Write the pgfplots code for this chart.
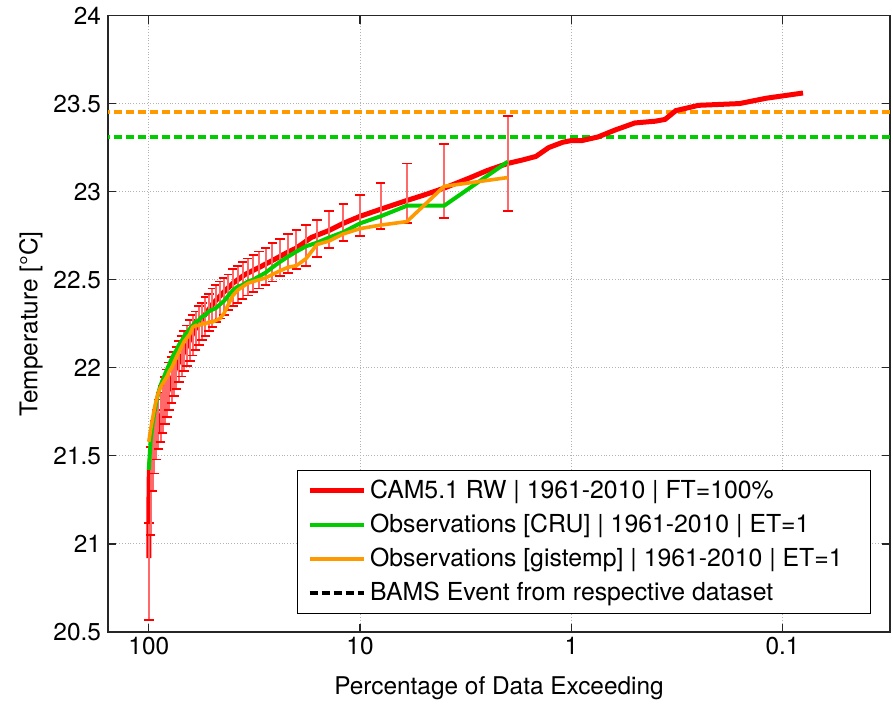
\documentclass[border=0pt]{standalone}
\usepackage{fontspec}
\setmainfont{TeX Gyre Heros}
\usepackage{pgfplots}
\usepackage{pgfplotstable}
\pgfplotsset{compat=1.18}

\definecolor{cruGreen}{RGB}{0,204,0}
\definecolor{gisOrange}{RGB}{255,153,0}
\definecolor{barPink}{RGB}{255,105,105}

% model (CAM5.1 RW) exceedance curve
\pgfplotstableread{
p      T
100    20.92
99.9   21.10
99.8   21.25
99.6   21.36
99.3   21.42
98.5   21.47
96.5   21.51
94     21.57
91     21.64
89     21.69
85     21.78
82     21.85
78     21.93
74.5   22.00
70     22.06
65     22.14
61     22.21
55     22.29
50     22.36
45     22.42
40     22.48
35     22.53
30     22.57
25     22.62
21.7   22.66
20     22.68
17     22.74
14     22.78
12     22.82
10     22.86
8      22.90
6      22.95
5      22.98
4      23.02
3      23.08
2.5    23.12
2      23.16
1.7    23.18
1.47   23.20
1.28   23.25
1.1    23.28
1.0    23.29
0.89   23.29
0.75   23.31
0.62   23.35
0.5    23.39
0.4    23.40
0.36   23.41
0.32   23.46
0.25   23.49
0.16   23.50
0.12   23.53
0.08   23.56
}\model

% observations, one value every 2 % (50 years)
\pgfplotstableread{
p    cru    gis    lo     hi
100  21.42  21.58  20.57  21.12
98   21.59  21.65  21.05  21.55
96   21.68  21.71  21.30  21.62
94   21.75  21.77  21.40  21.70
92   21.81  21.82  21.48  21.76
90   21.86  21.86  21.54  21.82
88   21.90  21.89  21.58  21.86
86   21.93  21.91  21.63  21.90
84   21.96  21.93  21.68  21.95
82   21.99  21.95  21.72  21.99
80   22.02  21.98  21.76  22.03
78   22.05  22.00  21.80  22.06
76   22.08  22.03  21.84  22.09
74   22.10  22.06  21.88  22.12
72   22.13  22.09  21.92  22.15
70   22.15  22.12  21.95  22.18
68   22.18  22.15  21.98  22.21
66   22.20  22.17  22.01  22.24
64   22.22  22.19  22.04  22.27
62   22.24  22.23  22.07  22.30
60   22.26  22.24  22.10  22.32
58   22.27  22.24  22.13  22.35
56   22.29  22.25  22.16  22.37
54   22.30  22.25  22.18  22.40
52   22.32  22.26  22.21  22.42
50   22.33  22.26  22.23  22.45
48   22.34  22.27  22.26  22.47
46   22.36  22.28  22.28  22.49
44   22.38  22.31  22.30  22.51
42   22.41  22.36  22.33  22.53
40   22.44  22.41  22.35  22.56
38   22.46  22.44  22.37  22.58
36   22.47  22.46  22.39  22.60
34   22.49  22.48  22.41  22.62
32   22.50  22.49  22.43  22.64
30   22.52  22.50  22.45  22.66
28   22.54  22.51  22.47  22.68
26   22.57  22.53  22.49  22.71
24   22.60  22.55  22.52  22.73
22   22.63  22.57  22.54  22.76
20   22.66  22.58  22.56  22.78
18   22.69  22.62  22.58  22.81
16   22.71  22.70  22.63  22.84
14   22.74  22.72  22.68  22.89
12   22.77  22.76  22.72  22.93
10   22.82  22.79  22.75  22.98
8    22.86  22.81  22.79  23.05
6    22.92  22.83  22.82  23.16
4    22.92  23.03  22.85  23.27
2    23.17  23.08  22.89  23.43
}\obs

\begin{document}
\begin{tikzpicture}
\begin{axis}[
  scale only axis,
  width=391pt, height=308.25pt,
  xmode=log, x dir=reverse,
  xmin=0.031, xmax=156,
  ymin=20.5, ymax=24,
  xtick={100,10,1,0.1},
  xticklabels={100,10,1,0.1},
  minor xtick={},
  ytick={20.5,21,21.5,22,22.5,23,23.5,24},
  yticklabels={20.5,21,21.5,22,22.5,23,23.5,24},
  /pgf/number format/assume math mode=true,
  tick label style={font=\fontsize{12.2}{14}\selectfont},
  xticklabel style={yshift=1pt},
  label style={font=\fontsize{12.2}{14}\selectfont},
  xlabel={Percentage of Data Exceeding},
  ylabel={Temperature [°C]},
  xlabel style={at={(axis description cs:0.5,0)}, anchor=center, yshift=-28pt},
  ylabel style={at={(axis description cs:0,0.5)}, anchor=center, yshift=38.5pt},
  grid=major,
  major grid style={gray!60, densely dotted, line width=0.5pt},
  tick align=inside,
  major tick length=4pt,
  axis line style={line width=0.6pt, black!85},
  every tick/.style={black!85, line width=0.6pt},
  legend cell align=left,
  legend style={at={(rel axis cs:0.976,0.029)}, anchor=south east,
    font=\fontsize{12.4}{14}\selectfont, draw=black, line width=0.6pt,
    row sep=2.2pt, inner xsep=5pt, inner ysep=3pt},
  legend image code/.code={\draw[#1] (0pt,0pt) -- (27pt,0pt);},
]
\coordinate (bl) at (rel axis cs:0,0);
\coordinate (tr) at (rel axis cs:1,1);

% BAMS event levels
\addplot[gisOrange, line width=2pt, dash pattern=on 4pt off 2pt, forget plot]
  coordinates {(0.031,23.45) (156,23.45)};
\addplot[cruGreen, line width=2pt, dash pattern=on 4pt off 2pt, forget plot]
  coordinates {(0.031,23.31) (156,23.31)};

\addplot[red, line width=2.5pt] table[x=p, y=T] {\model};
\addlegendentry{CAM5.1 RW | 1961-2010 | FT=100\%}

% model spread at the observation ranks
\addplot[draw=none, mark=none, forget plot,
  error bars/.cd, y dir=both, y explicit,
  error bar style={draw=barPink, line width=1pt},
  error mark options={rotate=90, draw=red, mark size=2.4pt, line width=0.9pt}]
  table[x=p, y expr=(\thisrow{lo}+\thisrow{hi})/2,
        y error expr=(\thisrow{hi}-\thisrow{lo})/2] {\obs};

\addplot[cruGreen, line width=2pt] table[x=p, y=cru] {\obs};
\addlegendentry{Observations [CRU] | 1961-2010 | ET=1}
\addplot[gisOrange, line width=1.8pt] table[x=p, y=gis] {\obs};
\addlegendentry{Observations [gistemp] | 1961-2010 | ET=1\hspace*{7pt}}
\addlegendimage{black, line width=2pt, dash pattern=on 4pt off 2pt}
\addlegendentry{BAMS Event from respective dataset}
\end{axis}
\path ([xshift=-54pt,yshift=-34.5pt]bl) rectangle ([xshift=1.5pt,yshift=7.75pt]tr);
\end{tikzpicture}
\end{document}
